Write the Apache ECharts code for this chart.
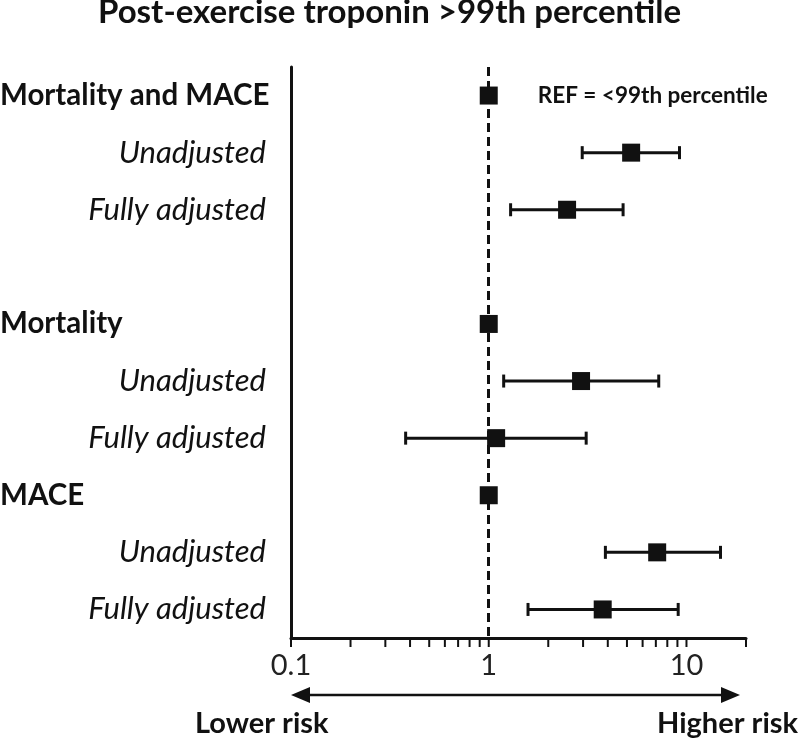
<!DOCTYPE html>
<html>
<head>
<meta charset="utf-8">
<script src="https://cdn.jsdelivr.net/npm/echarts@6/dist/echarts.min.js"></script>
<style>
html,body{margin:0;padding:0;background:#fff;}
#chart{width:800px;height:747px;}
</style>
</head>
<body>
<div id="chart"></div>
<script>
const titleText = 'Post-exercise troponin >99th percentile';
const categories = ['Mortality and MACE', 'Unadjusted', 'Fully adjusted', '', 'Mortality', 'Unadjusted', 'Fully adjusted', 'MACE', 'Unadjusted', 'Fully adjusted'];
const rowKind = ['head', 'sub', 'sub', 'gap', 'head', 'sub', 'sub', 'head', 'sub', 'sub'];
const estimates = [1, 5.25, 2.49, null, 1, 2.93, 1.09, 1, 7.11, 3.77];
const lower = [null, 2.97, 1.29, null, null, 1.19, 0.38, null, 3.89, 1.58];
const upper = [null, 9.22, 4.78, null, null, 7.24, 3.11, null, 14.86, 9.08];
const refLabel = 'REF = <99th percentile';
const majorTicks = [0.1, 1, 10];
const allTicks = [0.1, 0.2, 0.3, 0.4, 0.5, 0.6, 0.7, 0.8, 0.9, 1, 2, 3, 4, 5, 6, 7, 8, 9, 10, 20];
const xMin = 0.1, xMax = 20, refValue = 1;
const lowerRiskText = 'Lower risk';
const higherRiskText = 'Higher risk';

const FONT = 'Lato';
const INK = '#111';

const pointData = [];
const barData = [];
categories.forEach((c, i) => {
  if (estimates[i] != null) {
    const item = { value: [estimates[i], i] };
    if (i === 0) {
      item.label = {
        show: true, position: 'right', distance: 40, formatter: refLabel,
        fontFamily: FONT, fontWeight: 'bold', fontSize: 22.5, color: INK
      };
    }
    pointData.push(item);
  }
  if (lower[i] != null) barData.push([i, lower[i], upper[i]]);
});

const chart = echarts.init(document.getElementById('chart'), null, { renderer: 'canvas' });

chart.setOption({
  animation: false,
  backgroundColor: '#fff',
  title: {
    text: titleText, left: 98, top: -4, padding: 0,
    textStyle: { fontFamily: FONT, fontWeight: 'bold', fontSize: 33, color: INK }
  },
  grid: { left: 291, right: 54, top: 67, bottom: 109, containLabel: false, outerBoundsMode: 'none' },
  xAxis: {
    type: 'log', logBase: 10, min: xMin, max: xMax,
    axisLine: { show: true, lineStyle: { color: INK, width: 3 } },
    axisTick: { show: false },
    axisLabel: {
      show: true, customValues: majorTicks, margin: 13,
      fontFamily: FONT, fontSize: 29, color: '#222',
      formatter: v => String(+v.toPrecision(6))
    },
    minorTick: { show: false },
    splitLine: { show: false }
  },
  yAxis: {
    type: 'category', inverse: true, data: categories,
    axisLine: { show: true, lineStyle: { color: INK, width: 3 } },
    axisTick: { show: false },
    splitLine: { show: false },
    axisLabel: {
      show: true, margin: 25, interval: 0,
      formatter: (v, i) => {
        const k = rowKind[i];
        if (k === 'head') return '{h|' + categories[i] + '}';
        if (k === 'sub') return '{s|' + categories[i] + '}';
        return '';
      },
      rich: {
        h: { width: 266, align: 'left', fontFamily: FONT, fontWeight: 'bold', fontSize: 29.5, color: INK },
        s: { align: 'right', fontFamily: FONT, fontStyle: 'italic', fontSize: 31, color: INK }
      }
    }
  },
  series: [
    {
      type: 'custom',
      name: 'ticks',
      data: allTicks.map(v => [v, 0]),
      encode: { x: 0, y: 1 },
      clip: false,
      silent: true,
      z: 1,
      renderItem: (params, api) => {
        const x = api.coord([api.value(0), 0])[0];
        const yb = params.coordSys.y + params.coordSys.height;
        return { type: 'line', shape: { x1: x, y1: yb, x2: x, y2: yb + 9 }, style: { stroke: INK, lineWidth: 2 } };
      }
    },
    {
      type: 'custom',
      name: 'ci',
      data: barData,
      encode: { x: [1, 2], y: 0 },
      z: 2,
      renderItem: (params, api) => {
        const row = api.value(0);
        const p1 = api.coord([api.value(1), row]);
        const p2 = api.coord([api.value(2), row]);
        const cap = 6.5;
        const st = { stroke: INK, lineWidth: 3 };
        return {
          type: 'group',
          children: [
            { type: 'line', shape: { x1: p1[0], y1: p1[1], x2: p2[0], y2: p2[1] }, style: st },
            { type: 'line', shape: { x1: p1[0], y1: p1[1] - cap, x2: p1[0], y2: p1[1] + cap }, style: st },
            { type: 'line', shape: { x1: p2[0], y1: p2[1] - cap, x2: p2[0], y2: p2[1] + cap }, style: st }
          ]
        };
      }
    },
    {
      type: 'scatter',
      name: 'est',
      data: pointData,
      symbol: 'rect',
      symbolSize: 18,
      z: 3,
      itemStyle: { color: INK, opacity: 1 },
      markLine: {
        silent: true, symbol: 'none', label: { show: false },
        lineStyle: { color: INK, width: 3, type: [9, 5], opacity: 1 },
        data: [{ xAxis: refValue }]
      }
    }
  ]
});

// arrow and risk labels, positioned from the x axis scale
const left = chart.convertToPixel({ xAxisIndex: 0 }, xMin);
const right = chart.convertToPixel({ xAxisIndex: 0 }, xMax) - 6;
const ay = 695;
chart.setOption({
  graphic: [
    { type: 'line', shape: { x1: left + 10, y1: ay, x2: right - 10, y2: ay }, style: { stroke: INK, lineWidth: 2.5 } },
    { type: 'polygon', shape: { points: [[left, ay], [left + 19, ay - 8], [left + 19, ay + 8]] }, style: { fill: INK } },
    { type: 'polygon', shape: { points: [[right, ay], [right - 19, ay - 8], [right - 19, ay + 8]] }, style: { fill: INK } },
    { type: 'text', left: 195, top: 709, style: { text: lowerRiskText, fontFamily: FONT, fontWeight: 'bold', fontSize: 29, fill: INK } },
    { type: 'text', right: 2, top: 709, style: { text: higherRiskText, fontFamily: FONT, fontWeight: 'bold', fontSize: 29, fill: INK } }
  ]
});
</script>
</body>
</html>
